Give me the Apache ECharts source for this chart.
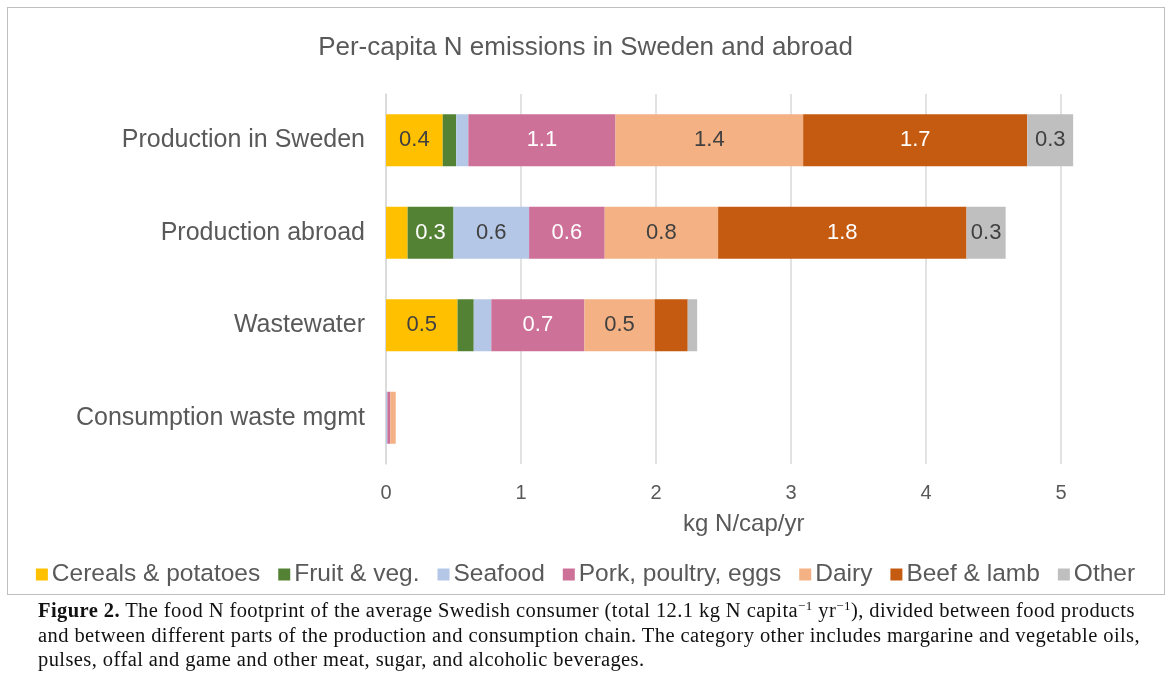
<!DOCTYPE html>
<html>
<head>
<meta charset="utf-8">
<script src="https://cdn.jsdelivr.net/npm/echarts@6/dist/echarts.min.js"></script>
<style>
  html, body { margin: 0; padding: 0; background: #fff; }
  #wrap { position: relative; width: 1171px; height: 697px; overflow: hidden; }
  #chart { position: absolute; left: 0; top: 0; width: 1171px; height: 697px; }
  #box { position: absolute; left: 7px; top: 7px; width: 1156px; height: 586px; border: 1px solid #BFBFBF; pointer-events: none; }
  #caption { position: absolute; left: 38px; top: 598px; font-family: "Liberation Serif", "DejaVu Serif", serif; font-size: 20.5px; letter-spacing: 0.42px; line-height: 24.5px; color: #111; white-space: nowrap; }
  #caption sup { font-size: 13px; vertical-align: 7px; line-height: 0; }
</style>
</head>
<body>
<div id="wrap">
  <div id="chart"></div>
  <div id="box"></div>
  <div id="caption">
    <div><b>Figure 2.</b> The food N footprint of the average Swedish consumer (total 12.1 kg N capita<sup>−1</sup> yr<sup>−1</sup>), divided between food products</div>
    <div>and between different parts of the production and consumption chain. The category other includes margarine and vegetable oils,</div>
    <div>pulses, offal and game and other meat, sugar, and alcoholic beverages.</div>
  </div>
</div>
<script>
const categories = ["Production in Sweden", "Production abroad", "Wastewater", "Consumption waste mgmt"];
const seriesNames = ["Cereals & potatoes", "Fruit & veg.", "Seafood", "Pork, poultry, eggs", "Dairy", "Beef & lamb", "Other"];
const cereals = [0.42, 0.16, 0.53, 0.00];
const fruitVeg = [0.10, 0.34, 0.12, 0.00];
const seafood = [0.09, 0.56, 0.13, 0.01];
const pork = [1.09, 0.56, 0.69, 0.022];
const dairy = [1.39, 0.84, 0.52, 0.04];
const beef = [1.66, 1.84, 0.245, 0.00];
const other = [0.34, 0.29, 0.07, 0.00];
const xTicks = [0, 1, 2, 3, 4, 5];

const seriesData = [cereals, fruitVeg, seafood, pork, dairy, beef, other];
const colors = ["#FFC000", "#548235", "#B4C7E7", "#CD7199", "#F4B183", "#C55A11", "#BFBFBF"];
const labelColors = ["#404040", "#FFFFFF", "#404040", "#FFFFFF", "#404040", "#FFFFFF", "#404040"];
const font = "'Liberation Sans', Arial, sans-serif";

const chart = echarts.init(document.getElementById('chart'), null, { renderer: 'canvas' });
chart.setOption({
  animation: false,
  color: colors,
  textStyle: { fontFamily: font },
  title: {
    text: 'Per-capita N emissions in Sweden and abroad',
    left: 'center',
    top: 30,
    textStyle: { fontFamily: font, fontSize: 26, fontWeight: 'normal', color: '#595959' }
  },
  legend: {
    data: seriesNames,
    left: 'center',
    top: 557,
    itemWidth: 12,
    itemHeight: 12,
    itemGap: 18,
    icon: 'rect',
    textStyle: { fontFamily: font, fontSize: 24.5, color: '#595959', padding: [0, 0, 0, -1] }
  },
  grid: { left: 386, top: 94, width: 715.5, height: 370, containLabel: false },
  xAxis: {
    type: 'value',
    min: 0,
    max: 5.3,
    interval: 1,
    name: 'kg N/cap/yr',
    nameLocation: 'middle',
    nameGap: 48,
    nameTextStyle: { fontFamily: font, fontSize: 24, color: '#595959' },
    axisLine: { show: false },
    axisTick: { show: false },
    axisLabel: {
      fontFamily: font, fontSize: 20, color: '#595959', margin: 19,
      showMaxLabel: false,
      formatter: v => (xTicks.indexOf(v) >= 0 ? String(v) : '')
    },
    splitLine: { show: true, showMaxLine: false, lineStyle: { color: '#D9D9D9', width: 1.5 } }
  },
  yAxis: {
    type: 'category',
    data: categories,
    inverse: true,
    axisLine: { show: true, lineStyle: { color: '#D9D9D9', width: 1.5 } },
    axisTick: { show: false },
    axisLabel: { fontFamily: font, fontSize: 25, color: '#595959', margin: 21 }
  },
  series: seriesData.map((d, i) => ({
    name: seriesNames[i],
    type: 'bar',
    stack: 'total',
    data: d,
    barWidth: 52,
    itemStyle: { color: colors[i] },
    label: {
      show: true,
      position: 'inside',
      fontFamily: font,
      fontSize: 22,
      color: labelColors[i],
      formatter: p => (p.value >= 0.25 ? p.value.toFixed(1) : '')
    }
  }))
});
</script>
</body>
</html>
